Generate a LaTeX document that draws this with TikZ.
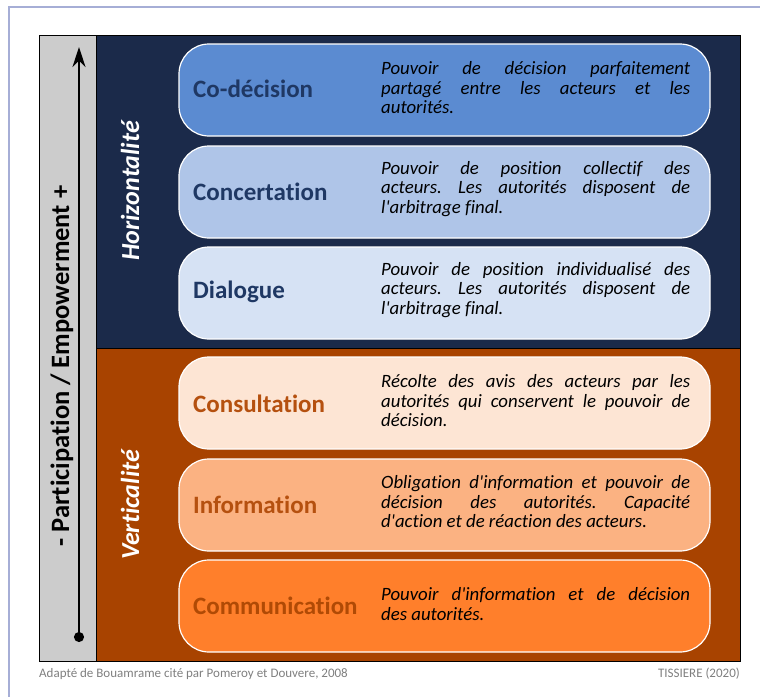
\documentclass[tikz,border=0pt]{standalone}
\usepackage{fontspec}
\setmainfont{Carlito}[Ligatures = {NoCommon, NoContextual}]
\usetikzlibrary{arrows.meta}

\definecolor{cFrame}{HTML}{A6AED6}
\definecolor{cAxis}{HTML}{CCCCCC}
\definecolor{cNavy}{HTML}{1B2A4A}
\definecolor{cBrown}{HTML}{A84300}
\definecolor{cBoxOne}{HTML}{5B8BD1}
\definecolor{cBoxTwo}{HTML}{AFC5E8}
\definecolor{cBoxThree}{HTML}{D6E2F4}
\definecolor{cBoxFour}{HTML}{FDE5D4}
\definecolor{cBoxFive}{HTML}{FBB282}
\definecolor{cBoxSix}{HTML}{FF7F2B}
\definecolor{cTitleTop}{HTML}{1F3864}
\definecolor{cTitleLow}{HTML}{B5500F}
\definecolor{cTitleSix}{HTML}{B04A05}
\definecolor{cNote}{HTML}{7F7F7F}

\hyphenpenalty=10000
\exhyphenpenalty=10000
\frenchspacing

\newcommand{\q}{\textquotesingle}

\begin{document}
\begin{tikzpicture}
[
	x	= 1pt,	% one unit is one pixel of the reference
	y	= -1pt,	% y grows downwards, as in the reference
	panel/.style	= {draw = black, line width = 0.8pt, inner sep = 0pt},
	level/.style	= {draw = white, line width = 1.2pt, rounded corners = 30pt, minimum width = 531pt, minimum height = 92pt, inner sep = 0pt},
	title/.style	= {anchor = west, inner sep = 0pt, font = \fontsize{25}{30}\selectfont\bfseries},
	desc/.style	= {anchor = west, inner sep = 0pt, text width = 309pt, align = justify, font = \fontsize{18.8}{19.5}\selectfont\itshape},
	side/.style	= {rotate = 90, text = white, inner sep = 0pt, font = \fontsize{26}{30}\selectfont\bfseries\itshape},
	note/.style	= {text = cNote, inner sep = 0pt, font = \fontsize{13}{15}\selectfont},
]

{
	\useasboundingbox (0,0) rectangle (760,696);

	% outer frame
	\draw [cFrame, line width = 2pt] (9,700) -- (9,7) -- (764,7);

	% panels declaration
	\node (nAxis) [panel, fill = cAxis, minimum width = 57pt, minimum height = 626pt] at (67.5,348) {};
	\node (nPanelHoriz) [panel, fill = cNavy, minimum width = 644pt, minimum height = 313pt] at (418,191.5) {};
	\node (nPanelVert) [panel, fill = cBrown, minimum width = 644pt, minimum height = 313pt] at (418,504.5) {};

	% axis
	\coordinate (cAxisLow) at (79,642);
	\coordinate (cAxisHigh) at (79,47);
	\draw [line width = 2pt, {Circle[length = 10pt]}-{Stealth[length = 20pt, width = 13pt]}] (cAxisLow) -- (cAxisHigh);
	\node (nAxisLabel) [rotate = 90, inner sep = 0pt, font = \fontsize{26.5}{30}\selectfont\bfseries] at (62,366) {- Participation / Empowerment +};

	\node (nHoriz) [side] at (130,191) {Horizontalité};
	\node (nVert) [side] at (130,505) {Verticalité};

	% levels declaration
	\node (nBoxOne) [level, fill = cBoxOne] at (444.5,90) {};
	\node (nBoxTwo) [level, fill = cBoxTwo] at (444.5,192) {};
	\node (nBoxThree) [level, fill = cBoxThree] at (444.5,293) {};
	\node (nBoxFour) [level, fill = cBoxFour] at (444.5,403) {};
	\node (nBoxFive) [level, fill = cBoxFive] at (444.5,505) {};
	\node (nBoxSix) [level, fill = cBoxSix] at (444.5,606) {};

	\node (nTitleOne) [title, text = cTitleTop] at (193,89) {Co-décision};
	\node (nTitleTwo) [title, text = cTitleTop] at (193,192) {Concertation};
	\node (nTitleThree) [title, text = cTitleTop] at (193,292) {Dialogue};
	\node (nTitleFour) [title, text = cTitleLow] at (193,404) {Consultation};
	\node (nTitleFive) [title, text = cTitleLow] at (193,505) {Information};
	\node (nTitleSix) [title, text = cTitleSix] at (193,606) {Communication};

	\node (nTextOne) [desc] at (381,88) {Pouvoir de décision parfaitement\linebreak partagé entre les acteurs et les\linebreak autorités.};
	\node (nTextTwo) [desc] at (381,189) {Pouvoir de position collectif des\linebreak acteurs. Les autorités disposent de\linebreak l\q arbitrage final.};
	\node (nTextThree) [desc] at (381,290) {Pouvoir de position individualisé des\linebreak acteurs. Les autorités disposent de\linebreak l\q arbitrage final.};
	\node (nTextFour) [desc] at (381,401) {Récolte des avis des acteurs par les\linebreak autorités qui conservent le pouvoir de\linebreak décision.};
	\node (nTextFive) [desc] at (381,502) {Obligation d\q information et pouvoir de\linebreak décision des autorités. Capacité\linebreak d\q action et de réaction des acteurs.};
	\node (nTextSix) [desc] at (381,604) {Pouvoir d\q information et de décision\linebreak des autorités.};

	% notes
	\node (nSource) [note, anchor = west] at (39,674) {Adapté de Bouamrame cité par Pomeroy et Douvere, 2008};
	\node (nAuthor) [note, anchor = east] at (740,674) {TISSIERE (2020)};
}

\end{tikzpicture}
\end{document}
